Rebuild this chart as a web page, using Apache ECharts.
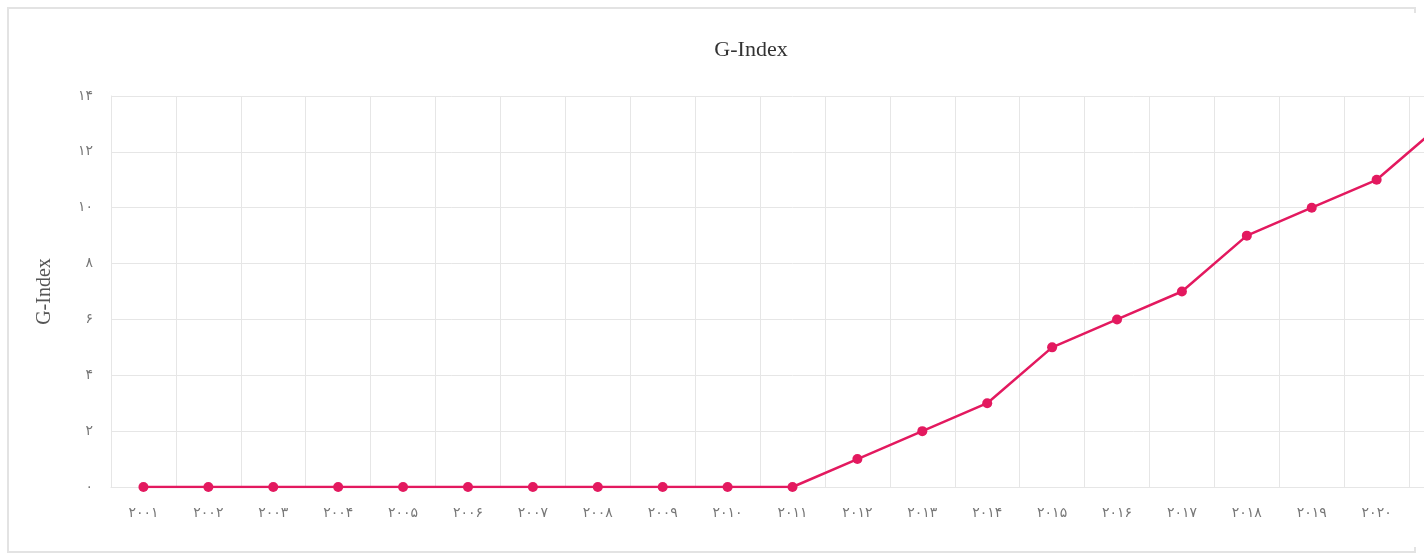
<!DOCTYPE html>
<html>
<head>
<meta charset="utf-8">
<script src="https://cdn.jsdelivr.net/npm/echarts@6/dist/echarts.min.js"></script>
<style>
html,body{margin:0;padding:0;width:1424px;height:554px;overflow:hidden;background:#fff;}
#box{position:absolute;left:7px;top:7px;width:1405px;height:542px;border:2px solid #e3e3e3;}
#chart{position:absolute;left:9px;top:13px;width:1484px;height:534px;background:#fff;}
</style>
</head>
<body>
<div id="box"></div>
<div id="chart"></div>
<script>
const years = ['۲۰۰۱','۲۰۰۲','۲۰۰۳','۲۰۰۴','۲۰۰۵','۲۰۰۶','۲۰۰۷','۲۰۰۸','۲۰۰۹','۲۰۱۰','۲۰۱۱','۲۰۱۲','۲۰۱۳','۲۰۱۴','۲۰۱۵','۲۰۱۶','۲۰۱۷','۲۰۱۸','۲۰۱۹','۲۰۲۰','۲۰۲۱'];
const gIndex = [0,0,0,0,0,0,0,0,0,0,0,1,2,3,5,6,7,9,10,11,13];
const faDigits = ['۰','۱','۲','۳','۴','۵','۶','۷','۸','۹'];
function toFa(v){return String(v).replace(/[0-9]/g,d=>faDigits[+d]);}

const chart = echarts.init(document.getElementById('chart'));
chart.setOption({
  animation:false,
  backgroundColor:'#fff',
  title:{text:'G-Index',left:'center',top:21,textStyle:{fontFamily:'Liberation Serif',fontSize:22,fontWeight:'normal',color:'#333'}},
  grid:{left:102,right:19,top:83,bottom:60},
  xAxis:{
    type:'category',data:years,boundaryGap:true,
    axisLine:{show:true,lineStyle:{color:'#e6e6e6',width:1}},
    axisTick:{show:false},
    axisLabel:{color:'#777',fontSize:14,margin:19,fontFamily:'DejaVu Sans'},
    splitLine:{show:true,lineStyle:{color:'#e6e6e6',width:1}}
  },
  yAxis:{
    type:'value',min:0,max:14,interval:2,
    name:'G-Index',nameLocation:'middle',nameGap:56,nameRotate:90,
    nameTextStyle:{fontFamily:'Liberation Serif',fontSize:20,color:'#555'},
    axisLine:{show:true,lineStyle:{color:'#e6e6e6'}},
    axisTick:{show:false},
    axisLabel:{color:'#777',fontSize:14,margin:18,fontFamily:'DejaVu Sans',formatter:v=>toFa(v)},
    splitLine:{show:true,lineStyle:{color:'#e6e6e6',width:1}}
  },
  series:[{
    type:'line',data:gIndex,symbol:'circle',symbolSize:10,
    lineStyle:{color:'#e3195f',width:2.5},
    itemStyle:{color:'#e3195f'}
  }]
});
</script>
</body>
</html>
